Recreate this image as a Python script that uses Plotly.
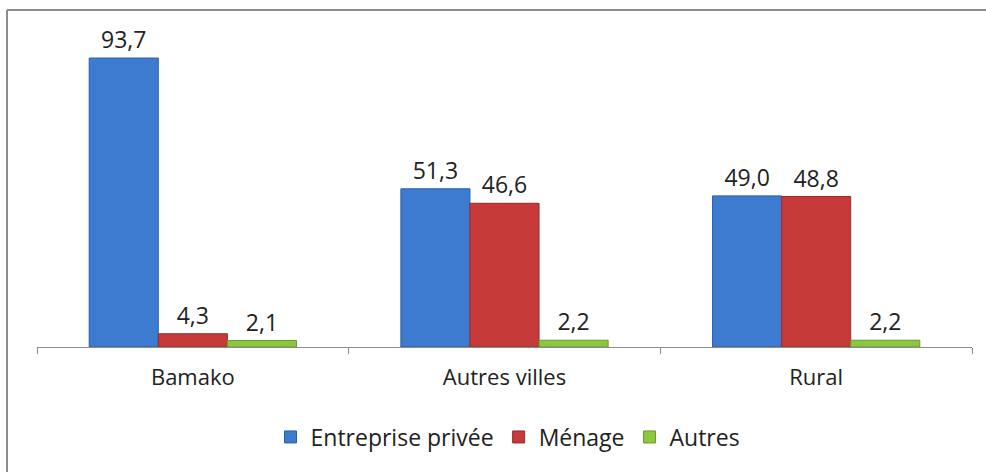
import plotly.graph_objects as go

categories = ["Bamako", "Autres villes", "Rural"]
series_names = ["Entreprise privée", "Ménage", "Autres"]
entreprise = [93.7, 51.3, 49.0]
menage = [4.3, 46.6, 48.8]
autres = [2.1, 2.2, 2.2]

colors = ["#3C7BD0", "#C63A3A", "#8DC63F"]
line_colors = ["#2A5FA8", "#9A2A2A", "#6A9A2A"]

W, H = 986, 472
ml, mr, mt, mb = 37, 14, 20, 125
plot_w = W - ml - mr
plot_h = H - mt - mb
FONT = "Open Sans"

fig = go.Figure()
for name, vals, c, lc in zip(series_names, [entreprise, menage, autres], colors, line_colors):
    fig.add_trace(go.Bar(
        x=categories, y=vals, name=name,
        marker=dict(color=c, line=dict(color=lc, width=1)),
        text=[f"{v:.1f}".replace(".", ",") for v in vals],
        textposition="outside", cliponaxis=False,
        textfont=dict(size=23, color="#222222", family=FONT),
    ))

def px_x(x):
    return (x - ml) / plot_w

def px_y(y):
    return (H - mb - y) / plot_h

fig.update_layout(
    width=W, height=H,
    margin=dict(l=ml, r=mr, t=mt, b=mb),
    paper_bgcolor="white", plot_bgcolor="white",
    barmode="group", bargap=0.335, bargroupgap=0,
    font=dict(family=FONT, size=22, color="#222222"),
    xaxis=dict(
        showline=True, linecolor="#8c8c8c", linewidth=1,
        ticks="outside", tickson="boundaries", ticklen=6, tickcolor="#8c8c8c",
        ticklabelstandoff=11, tickfont=dict(size=22, color="#222222", family=FONT),
        showgrid=False,
    ),
    yaxis=dict(range=[0, plot_h / 3.084], visible=False, showgrid=False),
    legend=dict(
        orientation="h", x=px_x(508), xanchor="center", y=px_y(437), yanchor="middle",
        font=dict(size=23, color="#222222", family=FONT), itemwidth=30, traceorder="normal",
    ),
    showlegend=True,
    shapes=[
        dict(type="line", xref="paper", yref="paper", x0=px_x(7), x1=px_x(990),
             y0=px_y(10), y1=px_y(10), line=dict(color="#8c8c8c", width=2)),
        dict(type="line", xref="paper", yref="paper", x0=px_x(7), x1=px_x(7),
             y0=px_y(10), y1=px_y(476), line=dict(color="#8c8c8c", width=2)),
    ],
)

fig.write_html("out.html", config={"displayModeBar": False},
               post_script="document.body.style.margin='0';document.body.style.overflow='hidden';")
